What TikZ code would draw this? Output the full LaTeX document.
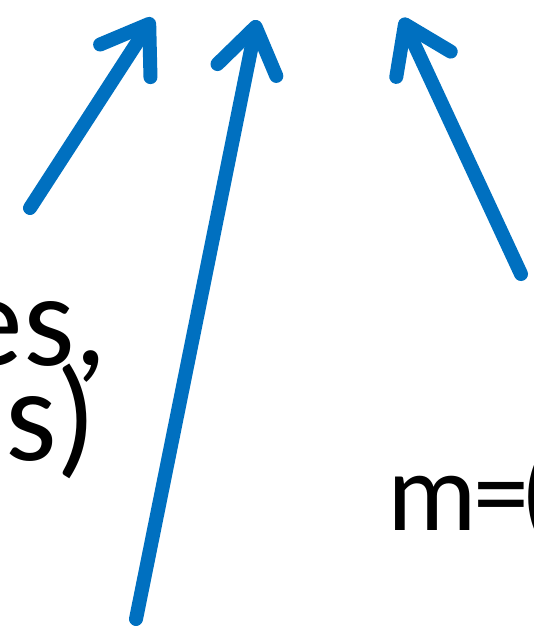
\documentclass[tikz,border=0pt]{standalone}
\usepackage{fontspec}
\setmainfont{Carlito}
\usetikzlibrary{arrows.meta}
\definecolor{arrowblue}{HTML}{0070C0}
\tikzset{
  ptr/.style={draw=arrowblue, line width=14pt, line cap=round,
    -{Straight Barb[length=44pt, width=60pt, round, line width=14pt]}},
  lbl/.style={inner sep=0pt, font=\fontsize{132}{150}\selectfont},
  lblsmall/.style={inner sep=0pt, font=\fontsize{112}{130}\selectfont}
}
\begin{document}
\begin{tikzpicture}[x=1pt,y=-1pt]
\useasboundingbox (0,0) rectangle (534,629);
\clip (0,0) rectangle (534,629);
\node[lbl, anchor=base east] (t1) at (108,365) {es,};
\node[lbl, anchor=base east] (t2) at (97,460) {s)};
\node[lblsmall, anchor=base west] (t3) at (387,530) {m\kern-3pt=\kern-9pt(};
\coordinate (a1s) at (30,208);
\coordinate (a1e) at (153,18);
\coordinate (a2s) at (136,619);
\coordinate (a2e) at (257,20);
\coordinate (a3s) at (521,274);
\coordinate (a3e) at (402,18);
\draw[ptr] (a1s) -- (a1e);
\draw[ptr] (a2s) -- (a2e);
\draw[ptr] (a3s) -- (a3e);
\end{tikzpicture}
\end{document}
